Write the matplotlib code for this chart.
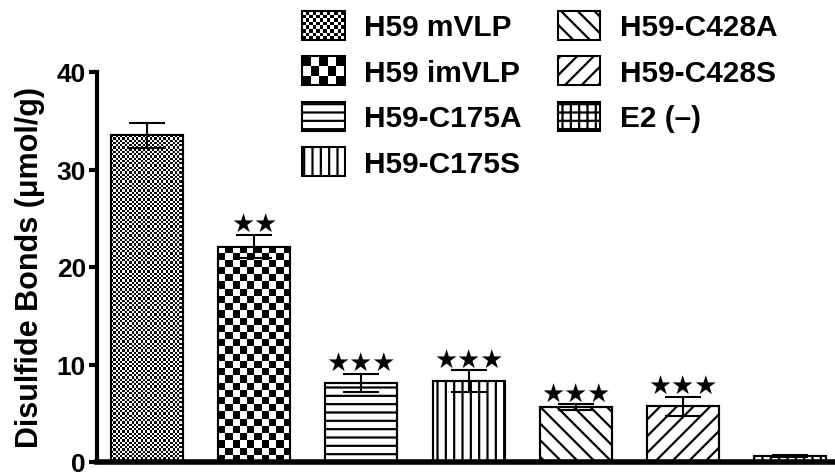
import numpy as np
import matplotlib
matplotlib.use("Agg")
import matplotlib.pyplot as plt
from matplotlib.patches import Rectangle, Patch
from matplotlib.legend_handler import HandlerBase

plt.rcParams['font.family'] = ['Liberation Sans', 'DejaVu Sans']
plt.rcParams['font.weight'] = 'bold'
plt.rcParams['hatch.linewidth'] = 1.6

# Disulfide bond content per construct
groups = ['H59 mVLP', 'H59 imVLP', 'H59-C175A', 'H59-C175S',
          'H59-C428A', 'H59-C428S', 'E2 (\u2013)']
means = [33.5, 22.1, 8.1, 8.3, 5.6, 5.7, 0.6]
errs = [1.25, 1.2, 0.9, 1.1, 0.3, 0.95, 0.1]
sig = ['', '\u2605\u2605', '\u2605\u2605\u2605', '\u2605\u2605\u2605',
       '\u2605\u2605\u2605', '\u2605\u2605\u2605', '']

# fill style per bar: ('checker', squares across) or a hatch string
fills = [('checker', 32), ('checker', 10), '--', '||', '\\\\', '//', '++']
legend_checker = {0: 12, 1: 5}


class CheckerHandler(HandlerBase):
    """Legend key drawn as a small checkerboard."""
    def __init__(self, n_across):
        super().__init__()
        self.n_across = n_across

    def create_artists(self, legend, orig_handle, xdescent, ydescent,
                       width, height, fontsize, trans):
        sq = width / self.n_across
        n_rows = int(round(height / sq))
        sqy = height / n_rows
        arts = [Rectangle((-xdescent, -ydescent), width, height,
                          facecolor='white', edgecolor='none',
                          transform=trans)]
        for i in range(self.n_across):
            for j in range(n_rows):
                if (i + j) % 2 == 0:
                    arts.append(Rectangle((-xdescent + i * sq,
                                           -ydescent + j * sqy), sq, sqy,
                                          facecolor='black',
                                          edgecolor='none', transform=trans))
        arts.append(Rectangle((-xdescent, -ydescent), width, height,
                              facecolor='none', edgecolor='black',
                              linewidth=1.5, transform=trans))
        return arts


fig = plt.figure(figsize=(8.35, 4.77), dpi=100)
ax = fig.add_axes([97 / 835, 14 / 477, 1 - 97 / 835, (463 - 73) / 477])

x = np.arange(len(groups))
width = 0.672
xlim = (-0.466, 6.418)
ylim = (0, 40)
ax.set_xlim(*xlim)
ax.set_ylim(*ylim)

bars = ax.bar(x, means, width, color='white', edgecolor='black',
              linewidth=1.5, zorder=2)
for b, f in zip(bars, fills):
    if isinstance(f, str):
        b.set_hatch(f)

# checkerboard fills, squares kept square in screen space
p0, p1 = ax.transData.transform([(0, 0), (1, 1)])
px_per_x, px_per_y = p1 - p0
for b, f in zip(bars, fills):
    if isinstance(f, str):
        continue
    n_across = f[1]
    sq_x = b.get_width() / n_across
    sq_y = sq_x * px_per_x / px_per_y
    n_rows = int(np.ceil(b.get_height() / sq_y))
    ii, jj = np.indices((n_rows, n_across))
    board = ((ii + jj) % 2).astype(float)
    im = ax.imshow(board, cmap='gray', interpolation='nearest',
                   origin='lower', aspect='auto', zorder=2.5,
                   extent=(b.get_x(), b.get_x() + b.get_width(),
                           0, n_rows * sq_y))
    im.set_clip_path(b)

# outlines on top of the fills
ax.bar(x, means, width, fill=False, edgecolor='black', linewidth=1.5,
       zorder=3)
ax.set_xlim(*xlim)
ax.set_ylim(*ylim)

ax.errorbar(x, means, yerr=errs, fmt='none', ecolor='black',
            elinewidth=1.5, capsize=13.3, capthick=1.5, zorder=4)

for xi, m, e, s in zip(x, means, errs, sig):
    if s:
        ax.annotate(s, (xi, m + e), xytext=(0, -1.5),
                    textcoords='offset points', ha='center', va='bottom',
                    fontsize=18.5, family=['DejaVu Sans'])

for side in ['top', 'right']:
    ax.spines[side].set_visible(False)
ax.spines['left'].set_linewidth(3)
ax.spines['bottom'].set_linewidth(4)
ax.set_xticks([])
ax.set_yticks([0, 10, 20, 30, 40])
ax.tick_params(axis='y', direction='out', length=6, width=3,
               labelsize=19, pad=2)
for lab in ax.get_yticklabels():
    lab.set_fontweight('bold')
ax.set_ylabel('Disulfide Bonds (\u03bcmol/g)', fontsize=22,
              fontweight='bold', labelpad=8)

# legend, filled column-wise (4 rows, 2 columns)
handles = []
handler_map = {}
for k, (g, f) in enumerate(zip(groups, fills)):
    if isinstance(f, str):
        h = Patch(facecolor='white', edgecolor='black', hatch=f,
                  linewidth=1.5, label=g)
    else:
        h = Patch(facecolor='white', edgecolor='black', label=g)
        handler_map[h] = CheckerHandler(legend_checker[k])
    handles.append(h)

leg = fig.legend(handles=handles, loc='upper left',
                 bbox_to_anchor=(302 / 835, 1 - 12 / 477), ncol=2,
                 frameon=False, handlelength=1.43,
                 handleheight=1.1, handletextpad=0.65, columnspacing=1.2,
                 labelspacing=0.5, borderpad=0, borderaxespad=0,
                 handler_map=handler_map, prop={'weight': 'bold', 'size': 21.5})

fig.savefig('out.png', dpi=100)
